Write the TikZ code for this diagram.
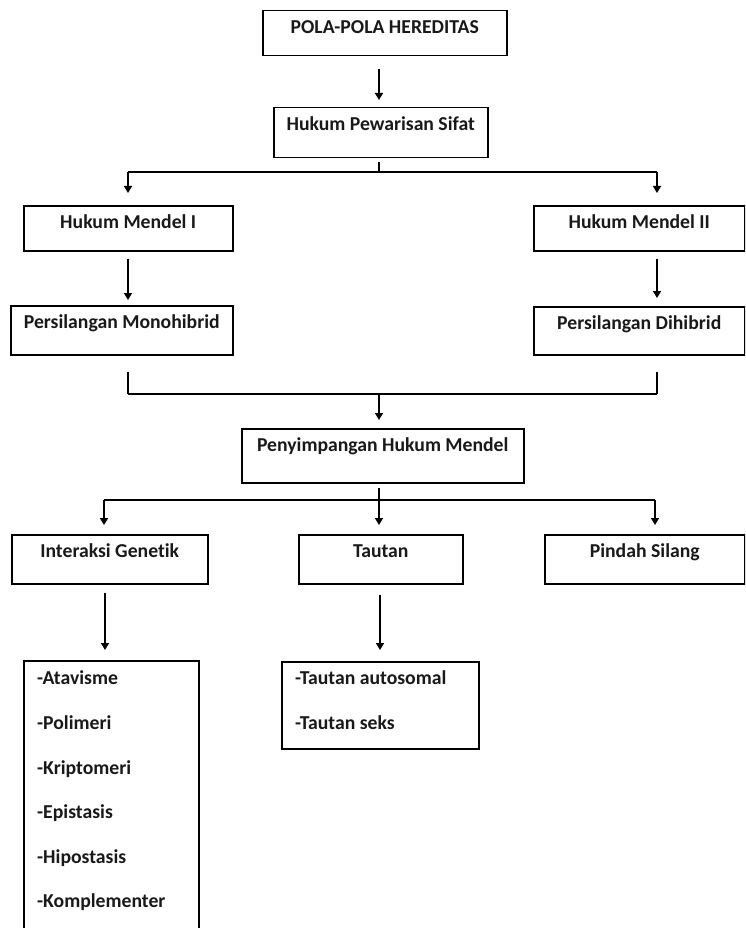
\documentclass[tikz,border=0pt]{standalone}
\usepackage{fontspec}
\setmainfont{Carlito}[Ligatures=NoCommon]
\usetikzlibrary{arrows.meta}

\begin{document}
\begin{tikzpicture}[x=1pt, y=-1pt,
  every node/.style={font=\fontsize{19.7}{23}\selectfont\bfseries, text=black!90},
  box/.style={draw, line width=1.5pt, rectangle, anchor=north west,
    inner sep=0pt, text height=23pt},
  item/.style={anchor=base west, inner sep=0pt},
  link/.style={line width=1.5pt},
  arr/.style={line width=1.5pt, -{Triangle[length=7pt, width=8pt]}}
]
\clip (0,0) rectangle (745,928);
\fill[white] (0,0) rectangle (745,928);

% boxes (top-left corner, width, height)
\node[box, minimum width=244pt, text depth=22pt] (pola) at (262,10) {POLA-POLA HEREDITAS};
\node[box, minimum width=214pt, text depth=27pt] (hukum) at (273,107) {Hukum Pewarisan Sifat};
\node[box, minimum width=209pt, text depth=22pt] (m1) at (23,205) {Hukum Mendel I};
\node[box, minimum width=211pt, text depth=22pt] (m2) at (533,205) {Hukum Mendel II};
\node[box, minimum width=222pt, text depth=26pt] (mono) at (10,305) {Persilangan Monohibrid};
\node[box, minimum width=211pt, text depth=25pt] (di) at (533,306) {Persilangan Dihibrid};
\node[box, minimum width=282pt, text depth=31pt] (peny) at (241,428) {Penyimpangan Hukum Mendel};
\node[box, minimum width=196pt, text depth=26pt] (inter) at (11,534) {Interaksi Genetik};
\node[box, minimum width=164pt, text depth=26pt] (taut) at (298,534) {Tautan};
\node[box, minimum width=200pt, text depth=26pt] (pindah) at (544,534) {Pindah Silang};

% list boxes
\node[draw, line width=1.5pt, anchor=north west, inner sep=0pt,
      minimum width=175pt, minimum height=290pt] (list1) at (23,660) {};
\node[draw, line width=1.5pt, anchor=north west, inner sep=0pt,
      minimum width=197pt, minimum height=87pt] (list2) at (281,661) {};

\node[item] (a1) at (37,684) {-Atavisme};
\node[item] (a2) at (37,729) {-Polimeri};
\node[item] (a3) at (37,774) {-Kriptomeri};
\node[item] (a4) at (37,818) {-Epistasis};
\node[item] (a5) at (37,863) {-Hipostasis};
\node[item] (a6) at (37,907) {-Komplementer};

\node[item] (b1) at (295,684) {-Tautan autosomal};
\node[item] (b2) at (295,729) {-Tautan seks};

% connector columns
\coordinate (cM) at (379,0);
\coordinate (cL) at (128,0);
\coordinate (cR) at (657,0);
\coordinate (dL) at (104,0);
\coordinate (dR) at (655,0);
\coordinate (eL) at (105,0);
\coordinate (eM) at (380,0);
\coordinate (split1) at (379,172);
\coordinate (join1) at (379,394);
\coordinate (split2) at (379,500);

% top chain
\draw[arr, shorten <=13pt, shorten >=7pt] (cM |- pola.south) -- (cM |- hukum.north);
\draw[link, shorten <=4pt] (cM |- hukum.south) -- (split1);
\draw[link] (cL |- split1) -- (cR |- split1);
\draw[arr, shorten >=12pt] (cL |- split1) -- (cL |- m1.north);
\draw[arr, shorten >=12pt] (cR |- split1) -- (cR |- m2.north);

% Mendel I / II
\draw[arr, shorten <=7pt, shorten >=5pt] (cL |- m1.south) -- (cL |- mono.north);
\draw[arr, shorten <=7pt, shorten >=8pt] (cR |- m2.south) -- (cR |- di.north);

% merge into Penyimpangan
\draw[link, shorten <=16pt] (cL |- mono.south) -- (cL |- join1);
\draw[link, shorten <=16pt] (cR |- di.south) -- (cR |- join1);
\draw[link] (cL |- join1) -- (cR |- join1);
\draw[arr, shorten >=8pt] (join1) -- (cM |- peny.north);

% split below Penyimpangan
\draw[link, shorten <=4pt] (cM |- peny.south) -- (split2);
\draw[link] (dL |- split2) -- (dR |- split2);
\draw[arr, shorten >=9pt] (dL |- split2) -- (dL |- inter.north);
\draw[arr, shorten >=9pt] (split2) -- (cM |- taut.north);
\draw[arr, shorten >=9pt] (dR |- split2) -- (dR |- pindah.north);

% lower arrows
\draw[arr, shorten <=8pt, shorten >=10pt] (eL |- inter.south) -- (eL |- list1.north);
\draw[arr, shorten <=10pt, shorten >=11pt] (eM |- taut.south) -- (eM |- list2.north);
\end{tikzpicture}
\end{document}
